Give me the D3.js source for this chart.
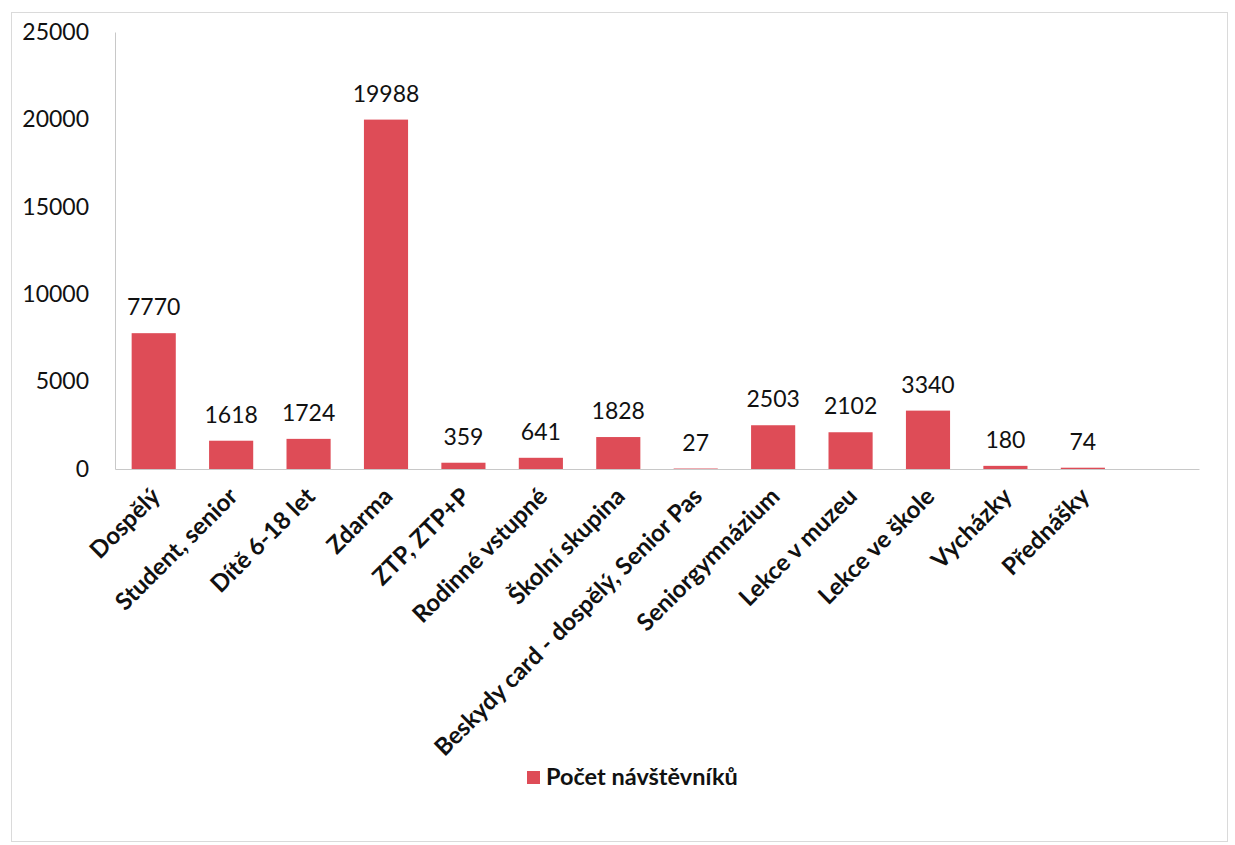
<!DOCTYPE html>
<html>
<head>
  <meta charset="utf-8">
  <title>Počet návštěvníků</title>
  <script src="https://cdn.jsdelivr.net/npm/d3@7"></script>
  <style>
    body { margin: 0; background: #fff; }
    svg text { font-family: Lato, "Open Sans", sans-serif; fill: #111; }
  </style>
</head>
<body>
  <div id="chart"></div>
  <script>
    // categories (the last band is empty in the original)
    const categories = ["Dospělý", "Student, senior", "Dítě 6-18 let", "Zdarma", "ZTP, ZTP+P",
      "Rodinné vstupné", "Školní skupina", "Beskydy card - dospělý, Senior Pas", "Seniorgymnázium",
      "Lekce v muzeu", "Lekce ve škole", "Vycházky", "Přednášky", ""]
    const values = [7770, 1618, 1724, 19988, 359, 641, 1828, 27, 2503, 2102, 3340, 180, 74]
    const yTicks = [0, 5000, 10000, 15000, 20000, 25000]
    const seriesName = "Počet návštěvníků"

    const width = 1235
    const height = 845
    const color = "#de4c57"

    const svg = d3.select("#chart").append("svg")
      .attr("width", width)
      .attr("height", height)

    // outer frame
    svg.append("rect")
      .attr("x", 11.5).attr("y", 12.5)
      .attr("width", 1216).attr("height", 829)
      .attr("fill", "none")
      .attr("stroke", "#dadada")

    const x = d3.scaleBand()
      .domain(categories)
      .range([115, 1199])
      .paddingInner(0.43)
      .paddingOuter(0.215)

    const y = d3.scaleLinear()
      .domain([0, 25000])
      .range([469, 32])

    // y axis
    const yAxis = svg.append("g")
      .attr("transform", "translate(115,0)")
      .call(d3.axisLeft(y).tickValues(yTicks).tickFormat(d3.format("d")).tickSize(0).tickPadding(26))
    yAxis.select(".domain").attr("stroke", "#c8c8c8")
    yAxis.selectAll("text").style("font-size", "23px")

    // x axis
    const xAxis = svg.append("g")
      .attr("transform", "translate(0,469)")
      .call(d3.axisBottom(x).tickSize(0).tickSizeOuter(0).tickPadding(0))
    xAxis.select(".domain").attr("stroke", "#c8c8c8")
    xAxis.selectAll("text")
      .style("font-size", "24px")
      .style("font-weight", "700")
      .attr("text-anchor", "end")
      .attr("dy", 0)
      .attr("transform", "translate(8,29) rotate(-45)")

    // bars
    const data = values.map((v, i) => ({ name: categories[i], value: v }))
    svg.append("g")
      .selectAll("rect")
      .data(data)
      .enter()
      .append("rect")
      .attr("x", d => x(d.name))
      .attr("y", d => y(d.value))
      .attr("width", x.bandwidth())
      .attr("height", d => y(0) - y(d.value))
      .attr("fill", color)

    // data labels
    svg.append("g")
      .selectAll("text")
      .data(data)
      .enter()
      .append("text")
      .attr("x", d => x(d.name) + x.bandwidth() / 2)
      .attr("y", d => y(d.value) - 18)
      .attr("text-anchor", "middle")
      .style("font-size", "23px")
      .text(d => d.value)

    // legend
    const legend = svg.append("g").attr("transform", "translate(527,771)")
    legend.append("rect")
      .attr("width", 13).attr("height", 13)
      .attr("fill", color)
    legend.append("text")
      .attr("x", 19).attr("y", 14)
      .style("font-size", "23.5px")
      .style("font-weight", "700")
      .text(seriesName)
  </script>
</body>
</html>
